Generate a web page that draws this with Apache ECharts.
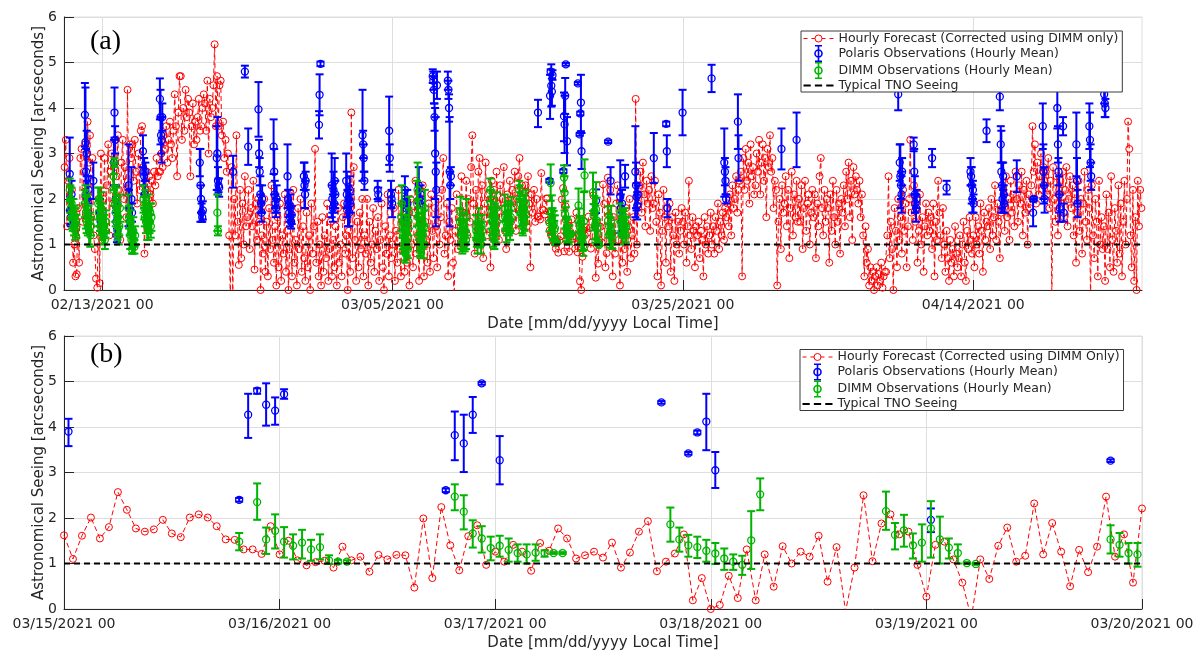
<!DOCTYPE html>
<html>
<head>
<meta charset="utf-8">
<script src="https://cdn.jsdelivr.net/npm/echarts@6/dist/echarts.min.js"></script>
<style>html,body{margin:0;padding:0;background:#fff}#chart{width:1199px;height:652px}</style>
</head>
<body>
<div id="chart"></div>
<script>
// ---------------- DATA (hours are relative to 02/13/2021 00:00 local time) ----------------
const TOP_X_RANGE = [-63, 1719];
const TOP_TICK_HOURS = [0, 480, 960, 1440];
const TOP_TICK_LABELS = ['02/13/2021 00', '03/05/2021 00', '03/25/2021 00', '04/14/2021 00'];
const BOTTOM_X_RANGE = [0, 120];           // hours relative to 03/15/2021 00:00
const BOTTOM_TICK_LABELS = ['03/15/2021 00', '03/16/2021 00', '03/17/2021 00', '03/18/2021 00', '03/19/2021 00', '03/20/2021 00'];
const B_OFFSET_HOURS = 720;                 // 03/15/2021 00 in panel (a) hours
const TNO_SEEING = 1;

// Panel (b): hourly forecast, 03/15 00:00 ... 03/20 00:00
const forecastB = [
  1.62, 1.10, 1.61, 2.01, 1.55, 1.80, 2.57, 2.18, 1.77, 1.70, 1.75, 1.96, 1.66, 1.58, 2.01, 2.08, 2.01, 1.82, 1.53, 1.52, 1.31, 1.31, 1.21, 1.82,
  1.20, 1.50, 1.07, 0.96, 1.03, 1.06, 0.91, 1.37, 1.07, 1.15, 0.82, 1.19, 1.09, 1.19, 1.18, 0.47, 1.99, 0.68, 2.24, 1.40, 0.85, 1.60, 1.84, 0.97,
  1.26, 1.04, 1.41, 1.26, 0.84, 1.45, 1.28, 1.77, 1.55, 1.11, 1.18, 1.26, 1.13, 1.46, 0.91, 1.24, 1.70, 1.93, 0.83, 1.04, 1.22, 1.64, 0.19, 0.68,
  0.00, 0.09, 0.73, 0.24, 1.31, 0.19, 1.20, 0.49, 1.38, 1.00, 1.26, 1.15, 1.61, 0.60, 1.36, -0.05, 0.91, 2.50, 1.05, 1.88, 2.08, 1.64, 1.70, 0.97,
  0.27, 1.41, 1.48, 1.09, 0.58, -0.20, 1.09, 0.66, 1.39, 1.79, 1.04, 1.17, 2.32, 1.20, 1.89, 1.26, 0.50, 1.30, 0.81, 1.37, 2.47, 1.15, 1.64, 0.58,
  2.21
];
// Panel (b) observations: [hour, mean, low, high]
const polarisB = [
  [0.5, 3.90, 3.58, 4.18], [19.5, 2.40, 2.36, 2.44], [20.5, 4.27, 3.76, 4.73], [21.5, 4.80, 4.73, 4.85],
  [22.5, 4.49, 4.03, 4.96], [23.5, 4.36, 4.05, 4.65], [24.5, 4.72, 4.62, 4.83], [42.5, 2.61, 2.57, 2.65],
  [43.5, 3.82, 3.27, 4.34], [44.5, 3.64, 3.01, 4.27], [45.5, 4.27, 3.87, 4.66], [46.5, 4.96, 4.93, 4.99],
  [48.5, 3.27, 2.74, 3.80], [66.5, 4.54, 4.51, 4.57], [69.5, 3.42, 3.39, 3.45], [70.5, 3.88, 3.84, 3.92],
  [71.5, 4.12, 3.49, 4.73], [72.5, 3.05, 2.66, 3.45], [96.5, 1.96, 1.69, 2.21], [116.5, 3.26, 3.23, 3.29]
];
const dimmB = [
  [19.5, 1.48, 1.29, 1.67], [21.5, 2.35, 1.96, 2.76], [22.5, 1.53, 1.21, 1.79], [23.5, 1.72, 1.33, 2.08],
  [24.5, 1.48, 1.13, 1.80], [25.5, 1.39, 1.09, 1.64], [26.5, 1.46, 1.11, 1.74], [27.5, 1.31, 1.06, 1.52],
  [28.5, 1.36, 1.09, 1.64], [29.5, 1.07, 0.99, 1.18], [30.5, 1.04, 1.00, 1.08], [31.5, 1.04, 1.01, 1.07],
  [43.5, 2.47, 2.17, 2.74], [44.5, 2.14, 1.75, 2.50], [45.5, 1.66, 1.35, 1.95], [46.5, 1.55, 1.24, 1.82],
  [47.5, 1.34, 1.07, 1.59], [48.5, 1.39, 1.15, 1.61], [49.5, 1.30, 1.04, 1.55], [50.5, 1.23, 1.04, 1.42],
  [51.5, 1.20, 1.00, 1.42], [52.5, 1.24, 1.06, 1.42], [53.5, 1.23, 1.15, 1.29], [54.5, 1.23, 1.21, 1.25],
  [55.5, 1.23, 1.21, 1.25], [67.5, 1.86, 1.48, 2.23], [68.5, 1.53, 1.26, 1.79], [69.5, 1.40, 1.15, 1.63],
  [70.5, 1.36, 1.12, 1.59], [71.5, 1.28, 1.04, 1.52], [72.5, 1.22, 0.99, 1.45], [73.5, 1.11, 0.86, 1.33],
  [74.5, 1.04, 0.86, 1.20], [75.5, 0.97, 0.75, 1.17], [76.5, 1.51, 0.88, 2.15], [77.5, 2.52, 2.17, 2.87],
  [91.5, 2.15, 1.74, 2.58], [92.5, 1.63, 1.31, 1.89], [93.5, 1.73, 1.37, 2.07], [94.5, 1.40, 1.11, 1.66],
  [95.5, 1.46, 1.04, 1.86], [96.5, 1.77, 1.13, 2.37], [97.5, 1.53, 1.00, 2.03], [98.5, 1.35, 1.11, 1.55],
  [99.5, 1.23, 1.00, 1.42], [100.5, 1.01, 0.99, 1.03], [101.5, 0.99, 0.97, 1.01], [116.5, 1.53, 1.22, 1.84],
  [117.5, 1.41, 1.15, 1.67], [118.5, 1.23, 1.00, 1.45], [119.5, 1.20, 0.93, 1.45]
];

// Panel (a): forecast read every 2 h, one row per day (02/10 ... 03/14); first row ends at 22:00
const FORECAST_A_EARLY_FIRST_DAY = -3;
const forecastA_early = [
  [2.7, 3.3, 1.4, 2.4, 2.9, 1.8, 2.2],
  [0.6, 1.0, 0.3, 0.35, 1.8, 0.6, 2.9, 3.1, 1.5, 2.6, 3.2, 2.0],
  [3.7, 2.8, 3.4, 1.6, 2.9, 1.2, 0.9, 0.25, 0.05, 2.0, 0.15, 3.0],
  [1.1, 2.0, 2.9, 1.5, 2.3, 3.2, 1.2, 2.6, 3.0, 1.9, 2.7, 3.3],
  [2.5, 3.4, 2.2, 1.1, 2.8, 3.3, 2.0, 2.7, 1.6, 4.4, 2.1, 3.2],
  [2.9, 3.2, 2.4, 3.3, 2.6, 1.9, 3.0, 2.2, 3.5, 3.6, 2.7, 0.8],
  [2.2, 2.6, 2.0, 2.5, 2.1, 2.4, 1.9, 2.6, 2.3, 2.9, 2.5, 2.6],
  [2.6, 3.0, 2.7, 3.4, 3.1, 3.6, 2.8, 3.3, 3.7, 3.2, 2.9, 3.5],
  [4.3, 3.6, 2.5, 3.9, 4.7, 4.7, 3.3, 4.0, 3.5, 4.4, 3.8, 4.2],
  [3.9, 2.5, 3.6, 4.1, 3.2, 3.7, 3.3, 3.8, 4.2, 3.5, 3.6, 4.0],
  [4.3, 4.1, 3.5, 4.6, 3.0, 4.2, 3.8, 4.0, 4.5, 5.4, 3.6, 4.7],
  [3.6, 4.5, 4.6, 3.4, 3.7, 2.9, 3.3, 2.6, 3.0, 1.2, -0.2, 2.7],
  [-0.2, 2.0, 1.2, 3.4, 1.5, 0.55, 2.2, 0.7, 1.9, 1.0, 2.5, 1.4],
  [1.6, 2.2, 0.9, 1.8, 1.4, 2.4, 0.45, 1.9, 1.1, 2.0, 1.5, 0.0],
  [1.2, 0.8, 2.0, 0.4, 1.5, 0.3, 1.8, 0.9, 2.3, 1.1, 0.6, 1.4],
  [0.1, 1.6, 0.5, 1.9, 0.2, 1.2, 0.8, 2.1, 0.4, 1.3, 0.0, 0.9],
  [1.5, 0.3, 2.2, 0.6, 1.1, 0.1, 1.8, 0.9, 2.0, 0.4, 1.4, 0.7],
  [0.2, 1.7, 0.5, 1.2, 0.0, 1.9, 0.8, 1.4, 3.1, 0.6, 1.5, 0.3],
  [1.0, 0.1, 1.6, 0.4, 1.2, 0.7, 1.9, 0.2, 0.9, 1.5, 0.3, 1.1],
  [0.5, 1.4, 0.1, 1.8, 0.6, 1.0, 0.3, 1.6, 1.9, 0.8, 1.2, 0.0],
  [1.3, 0.4, 3.9, 0.7, 2.7, 1.1, 0.2, 1.5, 0.5, 1.7, 0.9, 2.0],
  [0.3, 1.2, 0.8, 2.0, 0.1, 1.5, 0.6, 1.0, 1.8, 0.4, 1.3, 0.9],
  [1.6, 0.2, 1.1, 1.9, 0.5, 0.0, 1.4, 0.8, 2.1, 0.3, 1.2, 0.7],
  [1.0, 1.8, 0.2, 1.3, 0.6, 2.2, 0.9, 0.3, 1.5, 1.9, 0.4, 1.1],
  [0.6, 1.4, 0.1, 2.0, 1.0, 0.5, 1.7, 2.4, 0.8, 1.2, 0.2, 1.6],
  [0.9, 2.3, 0.3, 1.5, 1.1, 0.6, 1.9, 0.4, 2.1, 1.3, 0.7, 1.8],
  [1.4, 0.5, 2.0, 1.0, 1.6, 2.2, 2.9, 0.8, 1.2, 1.9, 0.3, 1.5],
  [1.1, 1.8, 0.6, -0.2, 1.3, 2.1, 0.9, 1.6, 1.2, 2.5, 1.7, 1.0],
  [1.7, 2.4, 1.2, 2.0, 1.5, 2.7, 3.4, 1.9, 0.8, 2.2, 1.4, 2.6],
  [2.9, 1.6, 2.3, 0.7, 1.9, 2.8, 1.2, 2.1, 1.7, 0.5, 2.4, 1.8],
  [2.2, 1.4, 2.6, 1.9, 1.1, 2.3, 1.6, 2.0, 2.7, 1.3, 0.9, 2.1],
  [1.9, 2.4, 1.5, 2.2, 1.8, 2.6, 1.3, 2.0, 2.5, 2.9, 1.7, 2.3],
  [2.0, 1.6, 2.3, 1.4, 2.5, 1.9, 0.5, 2.1, 1.7, 2.2, 1.5, 2.0]
];
// Panel (a): forecast every 2 h, 03/20 ... 04/25 (last row starts at 00:00)
const FORECAST_A_LATE_FIRST_DAY = 35;
const forecastA_late = [
  [2.2, 1.3, 0.3, 1.6, 0.8, 1.9, 2.3, 1.1, 0.1, 1.5, 0.6, 1.2],
  [0.9, 1.8, 0.4, 1.4, 2.0, 0.7, 1.2, 1.6, 0.8, 4.2, 1.0, 1.9],
  [2.3, 2.6, 1.7, 2.8, 2.1, 1.4, 2.4, 1.9, 2.2, 1.3, 2.5, 1.8],
  [1.9, 2.4, 1.5, 0.3, 2.1, 1.7, 0.1, 1.3, 2.2, 1.6, 0.6, 1.8],
  [1.4, 1.9, 0.4, 1.6, 1.2, 0.2, 1.7, 1.0, 1.5, 0.8, 1.3, 1.8],
  [1.5, 1.0, 1.7, 0.6, 1.4, 2.4, 1.2, 0.9, 1.6, 1.3, 0.5, 1.4],
  [1.2, 1.5, 0.7, 1.3, 1.1, 0.3, 1.6, 1.0, 1.4, 0.8, 1.2, 1.7],
  [1.0, 1.4, 0.8, 1.6, 1.3, 1.9, 0.9, 1.5, 1.2, 1.7, 1.1, 1.8],
  [1.6, 1.9, 1.4, 2.1, 1.2, 2.3, 1.8, 2.0, 2.5, 1.7, 2.2, 2.4],
  [2.6, 0.3, 2.9, 2.2, 3.1, 2.4, 2.8, 1.9, 3.2, 2.5, 2.7, 2.1],
  [2.3, 3.0, 2.6, 3.3, 2.1, 2.8, 3.2, 2.4, 2.9, 1.6, 3.1, 2.7],
  [3.4, 2.6, 2.9, 1.8, 2.4, 2.2, 0.1, 1.5, 2.0, 0.9, 2.3, 1.7],
  [1.9, 2.5, 1.4, 2.2, 0.7, 1.8, 2.6, 1.2, 2.1, 1.6, 2.4, 1.5],
  [2.0, 1.5, 2.3, 0.9, 1.8, 2.4, 1.3, 1.9, 2.1, 1.0, 1.7, 2.2],
  [1.6, 2.1, 0.7, 1.9, 1.4, 2.5, 2.9, 1.8, 1.2, 2.2, 1.5, 2.0],
  [1.8, 0.6, 2.1, 1.3, 2.4, 1.6, 1.0, 2.2, 1.5, 1.9, 0.8, 2.0],
  [1.7, 2.3, 1.4, 2.6, 2.0, 2.8, 1.6, 2.4, 1.1, 2.7, 2.1, 2.5],
  [2.2, 1.9, 2.4, 1.6, 2.1, 1.2, 0.3, 1.4, 0.6, 0.9, 0.1, 0.5],
  [0.2, 0.4, 0.0, 0.3, 0.5, 0.1, 0.35, 0.2, 0.6, 0.05, 0.3, 0.4],
  [0.4, 1.2, 2.5, 0.7, 1.5, 0.9, 0.0, 1.8, 1.3, 0.5, 2.0, 1.1],
  [1.6, 0.8, 2.2, 1.3, 1.9, 0.5, 1.4, 2.0, 3.3, 1.7, 1.1, 2.3],
  [1.5, 1.8, 0.6, 1.3, 2.1, 1.0, 1.6, 0.4, 1.4, 1.9, 1.2, 1.7],
  [1.3, 1.6, 0.9, 1.9, 0.3, 1.5, 1.1, 2.4, 1.7, 1.2, 0.7, 1.8],
  [1.0, 0.4, 1.3, 0.7, 0.2, 1.1, 0.6, 0.9, 0.3, 1.4, 0.8, 0.5],
  [0.7, 1.2, 0.3, 1.0, 1.5, 0.6, 0.2, 1.3, 0.9, 1.6, 1.1, 0.8],
  [1.2, 0.5, 1.6, 1.0, 1.4, 0.8, 1.9, 1.3, 0.4, 1.7, 1.1, 1.5],
  [1.4, 1.8, 0.9, 2.0, 1.2, 1.6, 2.3, 1.1, 1.9, 1.5, 0.7, 1.7],
  [1.8, 2.2, 1.3, 2.5, 1.6, 2.0, 1.1, 2.4, 1.7, 2.1, 1.4, 2.6],
  [2.0, 1.5, 2.3, 1.9, 2.6, 1.2, 2.2, 1.7, 2.4, 1.0, 2.1, 1.8],
  [2.3, 3.6, 2.6, 3.2, 1.9, 2.8, 2.1, 2.5, 3.0, 2.2, 2.7, 2.4],
  [2.6, 2.1, 2.9, 1.8, 2.4, -0.2, 2.7, 2.0, 1.5, 2.5, 1.2, 2.2],
  [2.4, 1.9, 2.6, 1.6, 2.2, 2.7, 1.4, 2.0, 2.5, 1.8, 2.3, 1.2],
  [2.1, 0.6, 1.7, 2.4, 1.3, 2.0, 0.8, 1.9, 2.6, 1.5, 1.1, 2.2],
  [1.8, -0.2, 2.3, 1.2, 0.7, 2.0, 1.5, 0.3, 2.4, 1.0, 1.6, 0.9],
  [1.4, 0.2, 2.1, 0.9, 1.7, 0.5, 2.5, 1.1, 0.4, 1.8, 1.3, 0.6],
  [2.3, 0.8, 1.9, 0.3, 1.5, 2.4, 1.0, 2.0, 3.7, 3.1, 1.2, 0.5],
  [2.2, 0.2, 1.6, 0.0, 2.4, 1.4, 2.2, 1.8]
];

// Panel (a) Polaris observations outside the panel (b) window: [hour, mean, std]
const polarisA = [
  [-53.5, 2.55, 0.8], [-52.5, 1.75, 0.3], [-51.5, 1.6, 0.2], [-50.5, 2.1, 0.3],
  [-28.5, 3.85, 0.7], [-27.5, 3.25, 1.2], [-26.5, 2.6, 0.5], [-25.5, 3.0, 0.5], [-24.5, 2.0, 0.4], [-23.5, 1.7, 0.3], [-22.5, 2.2, 0.3],
  [-14.5, 2.4, 0.4], [-3.5, 1.7, 0.3], [-2.5, 1.5, 0.2],
  [19.5, 2.8, 0.5], [20.5, 3.9, 0.55], [21.5, 3.3, 0.3], [22.5, 2.0, 0.3], [23.5, 1.5, 0.3], [24.5, 1.2, 0.15], [25.5, 1.6, 0.3],
  [43.5, 2.3, 0.9], [44.5, 1.8, 0.4], [46.5, 1.5, 0.3], [48.5, 2.0, 0.7], [49.5, 1.7, 0.2],
  [67.5, 3.05, 0.35], [68.5, 2.6, 0.3], [69.5, 2.5, 0.4], [70.5, 2.1, 0.3], [71.5, 2.6, 0.2],
  [95.5, 4.2, 0.45], [96.5, 3.8, 0.6], [97.5, 3.4, 0.4], [98.5, 3.3, 0.5], [99.5, 3.8, 0.3],
  [161.5, 2.8, 0.3], [162.5, 2.3, 0.8], [163.5, 2.0, 0.3], [164.5, 1.7, 0.2], [165.5, 1.6, 0.1], [166.5, 1.75, 0.2],
  [189.5, 2.9, 0.7], [190.5, 3.0, 0.8], [191.5, 2.4, 0.3], [192.5, 2.3, 0.15], [193.5, 2.25, 0.2],
  [216.5, 2.6, 0.35], [236, 4.8, 0.13], [241.5, 3.15, 0.4],
  [258.5, 3.97, 0.6], [259.5, 3.0, 0.3], [260.5, 2.6, 0.3], [261.5, 2.1, 0.4], [262.5, 1.9, 0.2], [263.5, 1.7, 0.2], [264.5, 2.0, 0.3],
  [283.5, 3.15, 0.6], [284.5, 2.6, 0.5], [285.5, 2.1, 0.3], [286.5, 1.9, 0.2], [287.5, 1.8, 0.2], [288.5, 2.0, 0.3],
  [306.5, 2.5, 0.7], [307.5, 2.0, 0.2], [308.5, 1.9, 0.3], [309.5, 1.7, 0.2], [310.5, 1.6, 0.2], [311.5, 1.8, 0.3], [312.5, 1.5, 0.15], [313.5, 1.65, 0.2],
  [333.5, 2.5, 0.3], [334.5, 2.3, 0.5], [335.5, 2.1, 0.3], [336.5, 2.4, 0.2],
  [358.5, 3.63, 0.3], [359.5, 4.29, 0.45], [361, 4.97, 0.05],
  [379.5, 2.3, 0.7], [380.5, 2.0, 0.3], [381.5, 1.8, 0.3], [382.5, 2.2, 0.4], [383.5, 1.9, 0.2], [384.5, 2.4, 0.5], [385.5, 2.1, 0.3],
  [403.5, 2.4, 0.6], [404.5, 2.1, 0.5], [405.5, 1.9, 0.3], [406.5, 1.8, 0.4], [407.5, 2.0, 0.3], [408.5, 1.7, 0.3], [409.5, 2.2, 0.3], [410.5, 1.9, 0.2],
  [430.5, 3.4, 1.0], [431.5, 3.2, 0.3], [432.5, 2.9, 0.3], [433.5, 2.4, 0.2],
  [455.5, 2.2, 0.2], [456.5, 2.1, 0.15],
  [474.5, 3.5, 0.75], [475.5, 2.9, 0.3], [477.5, 2.1, 0.3], [478.5, 2.0, 0.2], [479.5, 1.9, 0.3],
  [500.5, 2.2, 0.3], [501.5, 2.0, 0.2], [502.5, 1.8, 0.2], [503.5, 1.6, 0.2], [504.5, 1.9, 0.3],
  [523.5, 2.3, 0.4], [524.5, 2.0, 0.2], [525.5, 1.9, 0.1], [526.5, 2.1, 0.2],
  [546.5, 4.7, 0.15], [547.5, 4.6, 0.2], [548.5, 4.4, 0.3], [549.5, 3.8, 0.3], [550.5, 3.0, 1.0], [551.5, 2.6, 1.2], [552.5, 2.2, 0.6], [553.5, 4.5, 0.3],
  [571.5, 4.6, 0.2], [572.5, 4.4, 0.2], [573.5, 4.0, 0.3], [574.5, 2.6, 1.2], [575.5, 2.3, 0.3], [576.5, 2.5, 0.2],
  [840.5, 2.4, 0.3],
  [856.5, 2.05, 0.8], [857.5, 1.8, 0.3], [858.5, 1.5, 0.2], [859.5, 1.9, 0.3], [864.5, 2.5, 0.25],
  [881.5, 2.6, 1.0], [882.5, 2.3, 0.5], [883.5, 2.05, 0.3], [884.5, 1.85, 0.3], [885.5, 2.1, 0.2],
  [912, 2.9, 0.55], [932.5, 3.65, 0.05], [933.5, 3.05, 0.35], [934.5, 1.8, 0.2], [959.5, 3.9, 0.5], [1007.5, 4.65, 0.3],
  [1028.5, 2.8, 0.75], [1029.5, 2.6, 0.3], [1030.5, 2.4, 0.3], [1031.5, 2.0, 0.1],
  [1051, 3.7, 0.6], [1052, 2.9, 0.5], [1123, 3.1, 0.45], [1148, 3.3, 0.6],
  [1316, 4.3, 0.35], [1318.5, 2.8, 0.4], [1319.5, 2.5, 0.7], [1320.5, 2.3, 0.3], [1321.5, 2.1, 0.4], [1322.5, 2.6, 0.3],
  [1341.5, 3.2, 0.15], [1342.5, 2.6, 0.5], [1343.5, 2.1, 0.4], [1344.5, 1.9, 0.2], [1345.5, 1.8, 0.3], [1346.5, 2.0, 0.2],
  [1372, 2.9, 0.2], [1396, 2.25, 0.15],
  [1435.5, 2.6, 0.3], [1436.5, 2.5, 0.2], [1437.5, 2.3, 0.4], [1438.5, 2.0, 0.3], [1439.5, 2.2, 0.2], [1440.5, 1.9, 0.2],
  [1462, 3.5, 0.25], [1484, 4.25, 0.3],
  [1485.5, 3.2, 0.4], [1486.5, 2.6, 0.9], [1487.5, 2.3, 0.5], [1488.5, 2.0, 0.3], [1489.5, 2.5, 0.3], [1490.5, 2.1, 0.2], [1491.5, 1.9, 0.2],
  [1512, 2.5, 0.35], [1539, 1.7, 0.3], [1540, 2.0, 0.05],
  [1555, 3.6, 0.5], [1556, 2.6, 0.6], [1557, 2.3, 0.4], [1558, 2.0, 0.3],
  [1579, 4.0, 0.45], [1580, 3.2, 0.4], [1581, 2.6, 0.3], [1582, 2.1, 0.4], [1583, 1.8, 0.3],
  [1588.5, 3.6, 0.2], [1589.5, 1.7, 0.2],
  [1610.5, 3.2, 0.7], [1611.5, 2.4, 0.5], [1612.5, 1.9, 0.3],
  [1632, 3.6, 0.5], [1633, 3.3, 0.6], [1634, 2.8, 0.4], [1635, 2.5, 0.3],
  [1656.5, 4.3, 0.2], [1657.5, 4.1, 0.3], [1658.5, 4.0, 0.2]
];

// Panel (a) DIMM observation nights outside the panel (b) window: [first hour, means, stds]
const dimmA_nights = [
  [-53.5, [2.2, 2.0, 1.8, 1.9, 1.6, 1.5, 1.7, 1.4, 1.6, 1.3, 1.5, 1.4], [0.25, 0.3, 0.2, 0.35, 0.25, 0.2, 0.3, 0.2, 0.25, 0.2, 0.3, 0.25]],
  [-28.5, [1.9, 2.1, 1.7, 1.5, 1.8, 1.4, 1.6, 1.3, 1.5, 1.2, 1.4], [0.3, 0.2, 0.35, 0.25, 0.3, 0.2, 0.25, 0.3, 0.2, 0.25, 0.2]],
  [-6.5, [1.9, 1.7, 2.0, 1.6, 1.4, 1.8, 1.5, 1.3, 1.6, 1.2, 1.4, 1.1, 1.3, 1.5], [0.35, 0.3, 0.25, 0.3, 0.2, 0.35, 0.25, 0.2, 0.3, 0.2, 0.25, 0.2, 0.15, 0.25]],
  [18.5, [2.5, 2.2, 2.8, 1.9, 1.7, 2.0, 1.5, 1.3, 1.6, 1.2, 1.4, 1.8], [0.3, 0.35, 0.1, 0.4, 0.3, 0.25, 0.3, 0.2, 0.25, 0.2, 0.2, 0.3]],
  [43.5, [1.8, 1.6, 1.4, 1.2, 1.5, 1.1, 0.9, 1.0, 1.3, 1.1, 0.95, 1.2], [0.3, 0.25, 0.2, 0.3, 0.25, 0.2, 0.1, 0.2, 0.3, 0.15, 0.15, 0.2]],
  [68.5, [2.0, 1.8, 1.6, 1.9, 1.5, 1.7, 1.4, 1.6, 1.3, 1.8, 1.5, 1.7, 1.4, 1.6], [0.3, 0.25, 0.2, 0.3, 0.25, 0.2, 0.3, 0.25, 0.2, 0.3, 0.25, 0.2, 0.25, 0.3]],
  [190.5, [1.7, 1.3], [0.4, 0.1]],
  [494.5, [1.6, 1.9, 1.4, 1.2, 1.0, 0.9, 1.1, 0.8, 1.3, 1.0, 1.2, 0.9, 1.5, 1.7], [0.3, 0.4, 0.25, 0.3, 0.2, 0.25, 0.3, 0.2, 0.35, 0.25, 0.3, 0.2, 0.3, 0.35]],
  [520.5, [1.9, 2.2, 1.6, 1.4, 1.2, 1.0, 0.9, 1.1, 1.3, 1.5, 1.2, 1.0, 1.4, 1.8], [0.5, 0.6, 0.4, 0.3, 0.35, 0.25, 0.2, 0.3, 0.4, 0.3, 0.25, 0.3, 0.35, 0.4]],
  [591.5, [1.5, 1.7, 1.3, 1.2, 1.0, 1.1, 1.4, 1.2, 1.0, 1.3, 1.1, 1.6], [0.3, 0.35, 0.25, 0.3, 0.2, 0.25, 0.3, 0.2, 0.15, 0.25, 0.2, 0.4]],
  [617.5, [1.4, 1.3, 1.1, 1.0, 1.2, 1.5, 1.3, 1.1, 1.2, 1.0, 1.4, 1.3], [0.25, 0.2, 0.15, 0.2, 0.25, 0.3, 0.2, 0.15, 0.2, 0.2, 0.25, 0.2]],
  [641.5, [2.2, 1.9, 1.7, 1.5, 1.3, 1.2, 1.4, 1.1, 1.6, 1.3, 1.8, 1.5], [0.25, 0.3, 0.35, 0.3, 0.2, 0.25, 0.3, 0.2, 0.3, 0.25, 0.35, 0.3]],
  [665.5, [1.8, 1.6, 1.5, 1.3, 1.4, 1.6, 1.7, 1.4, 1.5, 1.3, 1.6, 1.8], [0.3, 0.25, 0.2, 0.25, 0.2, 0.3, 0.25, 0.2, 0.25, 0.2, 0.3, 0.25]],
  [689.5, [2.2, 2.0, 1.9, 1.7, 1.6, 1.5, 1.4, 1.6, 1.8, 1.5, 1.7, 1.9], [0.2, 0.3, 0.25, 0.3, 0.2, 0.25, 0.2, 0.25, 0.3, 0.2, 0.25, 0.3]],
  [840.5, [1.3, 1.5, 1.2, 1.1], [0.3, 0.35, 0.2, 0.2]],
  [856.5, [1.7, 1.5, 1.4, 1.3, 1.2, 1.5, 1.4, 1.3, 1.6, 1.2, 1.4], [0.2, 0.25, 0.2, 0.15, 0.2, 0.25, 0.2, 0.15, 0.2, 0.15, 0.2]]
];

// ---------------- BUILD SERIES DATA ----------------
function rowsToPoints(rows, firstDay, step) {
  const out = [];
  rows.forEach((row, r) => {
    const day = firstDay + r;
    const firstHour = (r === 0 && row.length < 24 / step) ? 24 - step * row.length : 0;
    row.forEach((v, j) => out.push([day * 24 + firstHour + step * j, v]));
  });
  return out;
}
const forecastTop = rowsToPoints(forecastA_early, FORECAST_A_EARLY_FIRST_DAY, 2);
for (let k = 0; k < forecastB.length - 1; k += 2) forecastTop.push([B_OFFSET_HOURS + k, forecastB[k]]);
rowsToPoints(forecastA_late, FORECAST_A_LATE_FIRST_DAY, 2).forEach(p => forecastTop.push(p));
forecastTop.sort((a, b) => a[0] - b[0]);

const forecastBottom = forecastB.map((v, h) => [h, v]);

const polarisTop = polarisA.map(d => [d[0], d[1], d[1] - d[2], d[1] + d[2]])
  .concat(polarisB.map(d => [d[0] + B_OFFSET_HOURS, d[1], d[2], d[3]]))
  .sort((a, b) => a[0] - b[0]);
const dimmTop = [];
dimmA_nights.forEach(n => n[1].forEach((v, i) => dimmTop.push([n[0] + i, v, v - n[2][i], v + n[2][i]])));
dimmB.forEach(d => dimmTop.push([d[0] + B_OFFSET_HOURS, d[1], d[2], d[3]]));
dimmTop.sort((a, b) => a[0] - b[0]);

// ---------------- STYLE ----------------
const RED = '#ff0000', BLUE = '#0000ff', GREEN = '#00b400', AX = '#262626', GRID = '#dedede';
const FONT = 'DejaVu Sans';
const NAME_FC_A = 'Hourly Forecast (Corrected using DIMM only)';
const NAME_FC_B = 'Hourly Forecast (Corrected using DIMM Only)';
const NAME_POL = 'Polaris Observations (Hourly Mean)';
const NAME_DIMM = 'DIMM Observations (Hourly Mean)';
const NAME_TNO = 'Typical TNO Seeing';

function errorBar(color) {
  return function (params, api) {
    const x = api.value(0);
    const c = api.coord([x, api.value(1)]);
    const lo = api.coord([x, api.value(2)]);
    const hi = api.coord([x, api.value(3)]);
    const cap = 4;
    const st = { stroke: color, lineWidth: 2, fill: null };
    return {
      type: 'group',
      children: [
        { type: 'line', shape: { x1: lo[0], y1: lo[1], x2: hi[0], y2: hi[1] }, style: st },
        { type: 'line', shape: { x1: lo[0] - cap, y1: lo[1], x2: lo[0] + cap, y2: lo[1] }, style: st },
        { type: 'line', shape: { x1: hi[0] - cap, y1: hi[1], x2: hi[0] + cap, y2: hi[1] }, style: st },
        { type: 'circle', shape: { cx: c[0], cy: c[1], r: 3.5 }, style: { stroke: color, lineWidth: 1.3, fill: null } }
      ]
    };
  };
}

function forecastSeries(name, data, idx) {
  return {
    name, type: 'line', xAxisIndex: idx, yAxisIndex: idx, data,
    symbol: 'circle', symbolSize: 7, showSymbol: true, clip: true,
    itemStyle: { color: 'rgba(0,0,0,0)', borderColor: RED, borderWidth: 1 },
    lineStyle: { color: RED, width: 1, type: [5, 3] },
    emphasis: { disabled: true }, z: 2
  };
}
function obsSeries(name, data, idx, color, z) {
  return {
    name, type: 'custom', xAxisIndex: idx, yAxisIndex: idx, data,
    renderItem: errorBar(color), clip: true, encode: { x: 0, y: [1, 2, 3] },
    itemStyle: { color }, z
  };
}
function tnoSeries(idx, range) {
  return {
    name: NAME_TNO, type: 'line', xAxisIndex: idx, yAxisIndex: idx,
    data: [[range[0], TNO_SEEING], [range[1], TNO_SEEING]],
    symbol: 'none', lineStyle: { color: '#000', width: 2, type: [6, 4] },
    itemStyle: { color: '#000' }, emphasis: { disabled: true }, z: 5
  };
}

function yAxis(idx) {
  return {
    gridIndex: idx, type: 'value', min: 0, max: 6, interval: 1,
    name: 'Astronomical Seeing [arcseconds]', nameLocation: 'middle', nameGap: 17.5, nameMoveOverlap: false,
    nameTextStyle: { fontFamily: FONT, fontSize: 15, color: AX },
    axisLine: { show: true, onZero: false, lineStyle: { color: AX, width: 1 } },
    axisTick: { show: true, inside: true, length: 10, lineStyle: { color: AX } },
    axisLabel: { fontFamily: FONT, fontSize: 14, color: AX, margin: 7 },
    splitLine: { show: true, lineStyle: { color: GRID, width: 1 } }
  };
}
const xName = 'Date [mm/dd/yyyy Local Time]';
const xCommon = {
  type: 'value', name: xName, nameLocation: 'middle', nameGap: 27,
  nameTextStyle: { fontFamily: FONT, fontSize: 15, color: AX },
  axisLine: { show: true, onZero: false, lineStyle: { color: AX, width: 1 } },
  splitLine: { show: true, lineStyle: { color: GRID, width: 1 } }
};

const PATH_FC = 'path://M0,4L4,4M8,4L11.5,4M18.5,4L22,4M26,4L30,4M11.5,4A3.5,3.5,0,1,1,18.5,4A3.5,3.5,0,1,1,11.5,4';
const PATH_ERR = 'path://M-3.5,-7.7L3.5,-7.7M0,-7.7L0,7.7M-3.5,7.7L3.5,7.7M-3.5,0A3.5,3.5,0,1,1,3.5,0A3.5,3.5,0,1,1,-3.5,0';
const PATH_TNO = 'path://M0,-1L7,-1L7,1L0,1ZM11,-1L18,-1L18,1L11,1ZM22,-1L29,-1L29,1L22,1Z';
function legend(top, left, fcName) {
  return {
    orient: 'vertical', left, top, selectedMode: false,
    backgroundColor: '#ffffff', borderColor: '#3a3a3a', borderWidth: 1,
    padding: [1, 4, 0, 2], itemGap: 0, itemWidth: 30, itemHeight: 15.4,
    textStyle: { fontFamily: FONT, fontSize: 12.5, color: AX },
    data: [
      { name: fcName, icon: PATH_FC, itemStyle: { color: 'rgba(0,0,0,0)', borderColor: RED, borderWidth: 1 } },
      { name: NAME_POL, icon: PATH_ERR, itemStyle: { color: 'rgba(0,0,0,0)', borderColor: BLUE, borderWidth: 1.6 } },
      { name: NAME_DIMM, icon: PATH_ERR, itemStyle: { color: 'rgba(0,0,0,0)', borderColor: GREEN, borderWidth: 1.6 } },
      { name: NAME_TNO, icon: PATH_TNO, itemStyle: { color: '#000', borderWidth: 0 } }
    ]
  };
}

const option = {
  animation: false,
  backgroundColor: '#ffffff',
  title: [
    { text: '(a)', left: 90, top: 28, padding: 0, textStyle: { fontFamily: 'Liberation Serif', fontSize: 28, fontWeight: 'normal', color: '#000' } },
    { text: '(b)', left: 90, top: 341, padding: 0, textStyle: { fontFamily: 'Liberation Serif', fontSize: 28, fontWeight: 'normal', color: '#000' } }
  ],
  legend: [legend(31, 801, NAME_FC_A), legend(349.5, 800, NAME_FC_B)],
  grid: [
    { left: 64, right: 57, top: 17, bottom: 362, show: true, borderColor: GRID, borderWidth: 1, backgroundColor: 'transparent' },
    { left: 64, right: 57, top: 336, bottom: 42, show: true, borderColor: GRID, borderWidth: 1, backgroundColor: 'transparent' }
  ],
  xAxis: [
    Object.assign({}, xCommon, {
      gridIndex: 0, min: TOP_X_RANGE[0], max: TOP_X_RANGE[1],
      axisTick: { show: true, inside: true, length: 10, customValues: TOP_TICK_HOURS, lineStyle: { color: AX } },
      axisLabel: {
        customValues: TOP_TICK_HOURS, fontFamily: FONT, fontSize: 14, color: AX, margin: 8,
        formatter: v => TOP_TICK_LABELS[TOP_TICK_HOURS.indexOf(v)] || ''
      }
    }),
    Object.assign({}, xCommon, {
      gridIndex: 1, min: BOTTOM_X_RANGE[0], max: BOTTOM_X_RANGE[1], interval: 24,
      axisTick: { show: true, inside: true, length: 10, lineStyle: { color: AX } },
      axisLabel: {
        fontFamily: FONT, fontSize: 14, color: AX, margin: 8, showMinLabel: true, showMaxLabel: true,
        formatter: v => BOTTOM_TICK_LABELS[Math.round(v / 24)] || ''
      }
    })
  ],
  yAxis: [yAxis(0), yAxis(1)],
  series: [
    forecastSeries(NAME_FC_A, forecastTop, 0),
    obsSeries(NAME_POL, polarisTop, 0, BLUE, 3),
    obsSeries(NAME_DIMM, dimmTop, 0, GREEN, 4),
    tnoSeries(0, TOP_X_RANGE),
    forecastSeries(NAME_FC_B, forecastBottom, 1),
    obsSeries(NAME_POL, polarisB, 1, BLUE, 3),
    obsSeries(NAME_DIMM, dimmB, 1, GREEN, 4),
    tnoSeries(1, BOTTOM_X_RANGE)
  ]
};

const chart = echarts.init(document.getElementById('chart'), null, { renderer: 'canvas' });
chart.setOption(option);
</script>
</body>
</html>
